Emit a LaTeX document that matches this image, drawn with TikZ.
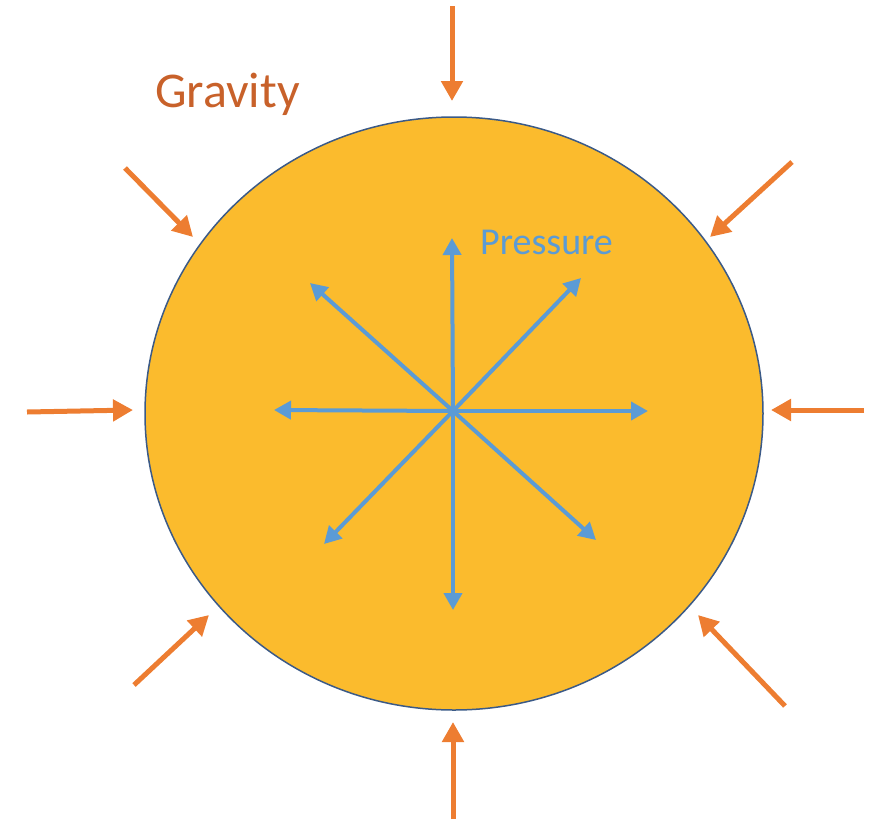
\documentclass[tikz,border=0pt]{standalone}
\usepackage{fontspec}
\setmainfont{Carlito}
\usetikzlibrary{arrows.meta,shapes.geometric}
\definecolor{sunfill}{HTML}{FBBB2D}
\definecolor{sunedge}{HTML}{3B5A87}
\definecolor{gravarrow}{HTML}{ED7D31}
\definecolor{gravtext}{HTML}{C8612A}
\definecolor{presblue}{HTML}{5B9BD5}
\tikzset{
  gravity/.style={draw=gravarrow, line width=5pt, -{Triangle[length=20pt,width=21pt]}},
  pressure/.style={draw=presblue, line width=4pt, -{Triangle[length=17pt,width=18pt]}},
}
\begin{document}
\begin{tikzpicture}[x=1pt,y=-1pt]
\useasboundingbox (0,0) rectangle (879,823);
\node[ellipse, draw=sunedge, line width=1.5pt, fill=sunfill, minimum width=618pt, minimum height=593pt, inner sep=0pt] (sun) at (454,413.5) {};
% gravity arrows
\coordinate (g1s) at (452,6);   \coordinate (g1e) at (452,101);
\coordinate (g2s) at (792,162); \coordinate (g2e) at (710,237);
\coordinate (g3s) at (864,410); \coordinate (g3e) at (771,410);
\coordinate (g4s) at (785,706); \coordinate (g4e) at (698,615);
\coordinate (g5s) at (453,819); \coordinate (g5e) at (453,722);
\coordinate (g6s) at (134,685); \coordinate (g6e) at (209,615);
\coordinate (g7s) at (27,412);  \coordinate (g7e) at (133,410);
\coordinate (g8s) at (125,168); \coordinate (g8e) at (193,237);
\foreach \i in {1,...,8} \draw[gravity] (g\i s) -- (g\i e);
% pressure arrows
\coordinate (c) at (453,411);
\coordinate (p1) at (452,238);
\coordinate (p2) at (581,278);
\coordinate (p3) at (648,411);
\coordinate (p4) at (596,540);
\coordinate (p5) at (453,610);
\coordinate (p6) at (324,544);
\coordinate (p7) at (274,410);
\coordinate (p8) at (310,283);
\foreach \i in {1,...,8} \draw[pressure] (c) -- (p\i);
\node[text=gravtext, font=\fontsize{50}{50}\selectfont, anchor=base west, inner sep=0pt] (grav) at (155,107) {Gravity};
\node[text=presblue, font=\fontsize{38}{38}\selectfont, anchor=base west, inner sep=0pt] (pres) at (480,254) {Pressure};
\end{tikzpicture}
\end{document}
